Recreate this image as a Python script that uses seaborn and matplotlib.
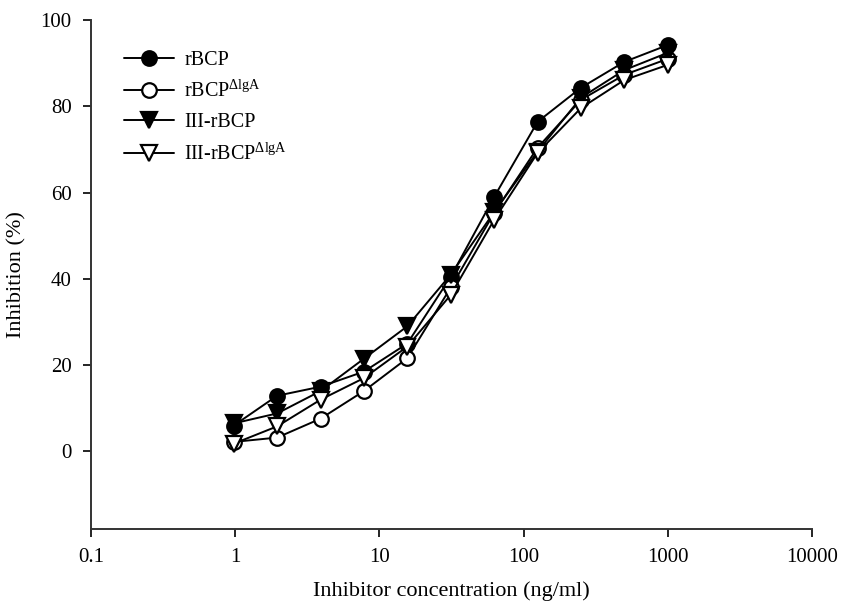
import numpy as np
import pandas as pd
import matplotlib
matplotlib.use("Agg")
import matplotlib.pyplot as plt
import seaborn as sns

concentration = [0.977, 1.95, 3.91, 7.81, 15.6, 31.25, 62.5, 125, 250, 500, 1000]
rbcp = [6.0, 12.9, 15.0, 18.5, 25.0, 40.5, 59.0, 76.4, 84.3, 90.3, 94.2]
rbcp_dlga = [2.2, 3.2, 7.6, 14.0, 21.6, 38.0, 55.3, 70.4, 81.5, 87.3, 91.0]
iii_rbcp = [6.5, 8.8, 14.0, 21.5, 29.0, 41.0, 55.5, 69.5, 82.0, 88.4, 92.4]
iii_rbcp_dlga = [1.8, 5.8, 12.0, 17.0, 24.3, 36.3, 53.7, 69.2, 79.6, 86.1, 89.6]

series_names = ["rBCP", r"rBCP$^{\Delta\mathrm{lgA}}$", "III-rBCP", r"III-rBCP$^{\Delta\mathrm{lgA}}$"]
series_values = [rbcp, rbcp_dlga, iii_rbcp, iii_rbcp_dlga]
markers = ["o", "o", "v", "v"]
facecolors = ["black", "white", "black", "white"]

x_ticks = [0.1, 1, 10, 100, 1000, 10000]
x_ticklabels = ["0.1", "1", "10", "100", "1000", "10000"]
y_ticks = [0, 20, 40, 60, 80, 100]

sns.set_theme(style="ticks")
plt.rcParams["font.family"] = ["Liberation Serif", "DejaVu Serif"]
plt.rcParams["mathtext.fontset"] = "custom"
plt.rcParams["mathtext.rm"] = "Liberation Serif"
plt.rcParams["mathtext.it"] = "Liberation Serif:italic"
plt.rcParams["text.color"] = "black"
plt.rcParams["axes.labelcolor"] = "black"

fig = plt.figure(figsize=(8.44, 6.06), dpi=100)
ax = fig.add_axes([0.108, 0.127, 0.854, 0.84])

for name, vals, m, fc in zip(series_names, series_values, markers, facecolors):
    df = pd.DataFrame({"x": concentration, "y": vals})
    sns.lineplot(data=df, x="x", y="y", ax=ax, color="black", linewidth=1.4,
                 marker=m, markersize=10.5 if m == "o" else 11,
                 markerfacecolor=fc, markeredgecolor="black", markeredgewidth=1.6,
                 label=name)

ax.set_xscale("log")
ax.set_xlim(0.1, 10000)
ax.set_ylim(-18, 100)
ax.set_xticks(x_ticks)
ax.set_xticklabels(x_ticklabels)
ax.xaxis.set_minor_locator(matplotlib.ticker.NullLocator())
ax.set_yticks(y_ticks)
ax.tick_params(axis="both", direction="out", length=6, width=1.2, labelsize=15,
               colors="black", pad=8)
for side in ["top", "right"]:
    ax.spines[side].set_visible(False)
for side in ["left", "bottom"]:
    ax.spines[side].set_linewidth(1.4)
    ax.spines[side].set_color("#333333")

ax.set_xlabel("Inhibitor concentration (ng/ml)", fontsize=16, labelpad=10)
ax.set_ylabel("Inhibition (%)", fontsize=16, labelpad=10)

leg = ax.legend(loc="upper left", bbox_to_anchor=(0.02, 0.975), frameon=False,
                fontsize=14.5, handlelength=2.5, handletextpad=0.5, labelspacing=0.55)
for t in leg.get_texts():
    t.set_color("black")

fig.savefig("out.png", dpi=100)
